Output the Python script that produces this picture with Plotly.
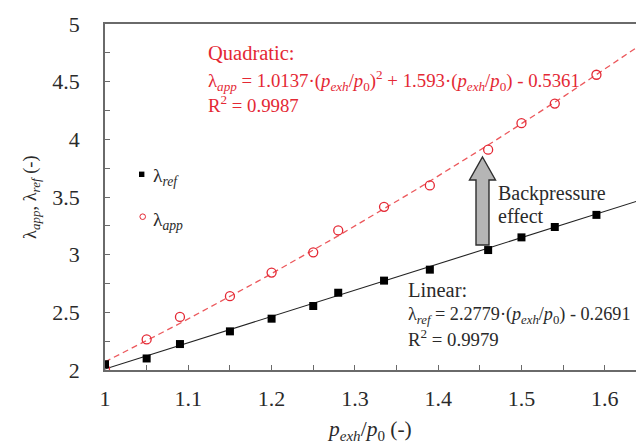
import numpy as np
import plotly.graph_objects as go

# ---- data ----
p_ratio = [1.00, 1.05, 1.09, 1.15, 1.20, 1.25, 1.28, 1.335, 1.39, 1.46, 1.50, 1.54, 1.59]
lambda_ref = [2.05, 2.10, 2.225, 2.335, 2.445, 2.555, 2.67, 2.775, 2.87, 3.04, 3.15, 3.24, 3.345]
lambda_app = [2.01, 2.265, 2.46, 2.64, 2.845, 3.02, 3.21, 3.415, 3.60, 3.91, 4.14, 4.31, 4.56]

# fitted models printed on the chart
lin_coef = [2.2779, -0.2691]            # lambda_ref = a*x + b
quad_coef = [1.0137, 1.593, -0.5361]    # lambda_app = a*x^2 + b*x + c
fit_x = np.linspace(1.0, 1.66, 80)

x_ticks = [1.0, 1.1, 1.2, 1.3, 1.4, 1.5, 1.6]
y_ticks = [2.0, 2.5, 3.0, 3.5, 4.0, 4.5, 5.0]

RED = "rgb(228,40,52)"
RED_LINE = "rgb(236,88,92)"
FONT = "Liberation Serif"
TXT = "#2a2a2a"
AX = "#6a6a6a"

W, H = 636, 444
ML, MR, MT, MB = 105, 0, 24, 74
PW, PH = W - ML - MR, H - MT - MB


def px(xp):
    return (xp - ML) / PW


def py(yp):
    return (H - MB - yp) / PH


fig = go.Figure()

fig.add_trace(go.Scatter(x=fit_x, y=np.polyval(quad_coef, fit_x), mode="lines",
                         line=dict(color=RED_LINE, width=1.3, dash="6px,4px"),
                         showlegend=False, hoverinfo="skip"))
fig.add_trace(go.Scatter(x=fit_x, y=np.polyval(lin_coef, fit_x), mode="lines",
                         line=dict(color="#222222", width=1.1),
                         showlegend=False, hoverinfo="skip"))
fig.add_trace(go.Scatter(x=p_ratio, y=lambda_app, mode="markers", name="λapp",
                         marker=dict(symbol="circle-open", size=9, color=RED,
                                     line=dict(width=1.3, color=RED)),
                         showlegend=False))
fig.add_trace(go.Scatter(x=p_ratio, y=lambda_ref, mode="markers", name="λref",
                         marker=dict(symbol="square", size=8, color="#000000"),
                         showlegend=False))

annotations = []


def add_text(text, xpix, ypix, color=TXT, size=19, xanchor="left", yanchor="middle", angle=0):
    annotations.append(dict(text=text, x=px(xpix), y=py(ypix), xref="paper", yref="paper",
                            xanchor=xanchor, yanchor=yanchor, showarrow=False,
                            textangle=angle, align="left", borderpad=0,
                            font=dict(family=FONT, size=size, color=color)))


pexh = "<i>p</i><sub><i>exh</i></sub>/<i>p</i><sub>0</sub>"

# quadratic block
add_text("Quadratic:", 207, 53, color=RED, size=20.5)
add_text("λ<sub><i>app</i></sub> = 1.0137·(" + pexh + ")<sup>2</sup> + 1.593·(" + pexh + ") - 0.5361",
         207, 81, color=RED, size=18.8)
add_text("R<sup>2</sup> = 0.9987", 207, 104, color=RED, size=18.8)

# linear block
add_text("Linear:", 407, 290, size=20.5)
add_text("λ<sub><i>ref</i></sub> = 2.2779·(" + pexh + ") - 0.2691", 407, 315, size=18.2)
add_text("R<sup>2</sup> = 0.9979", 407, 338, size=18.8)

# backpressure
add_text("Backpressure", 497, 193, size=20)
add_text("effect", 497, 216, size=20)

# legend
add_text("λ<sub><i>ref</i></sub>", 152, 177, size=19.5)
add_text("λ<sub><i>app</i></sub>", 152, 221, size=19.5)

# axis titles
add_text("λ<sub><i>app</i></sub>, λ<sub><i>ref</i></sub> (-)", 31, 197, size=18.5,
         xanchor="center", angle=-90)
add_text(pexh + " (-)", 369, 430, size=21.5, xanchor="center")

shapes = [
    # legend markers
    dict(type="rect", xref="paper", yref="paper", xsizemode="pixel", ysizemode="pixel",
         xanchor=px(141.7), yanchor=py(174.3), x0=-2.7, x1=2.7, y0=-2.7, y1=2.7,
         fillcolor="#000000", line=dict(width=0)),
    dict(type="circle", xref="paper", yref="paper", xsizemode="pixel", ysizemode="pixel",
         xanchor=px(142.7), yanchor=py(216.7), x0=-2.8, x1=2.8, y0=-2.8, y1=2.8,
         fillcolor="rgba(0,0,0,0)", line=dict(width=1, color=RED)),
]

# block arrow (backpressure effect), drawn in pixel offsets around an anchor
tip_x, tip_y = 482.5, 157
pts = [(0, 0), (13, 23), (6.5, 23), (6.5, 88), (-6.5, 88), (-6.5, 23), (-13, 23)]
path = "M " + " L ".join(f"{px(tip_x + dx):.5f},{py(tip_y + dy):.5f}" for dx, dy in pts) + " Z"
shapes.append(dict(type="path", xref="paper", yref="paper", path=path,
                   fillcolor="#b5b5b5", line=dict(color="#2e2e2e", width=1.4)))

fig.update_layout(
    width=W, height=H,
    margin=dict(l=ML, r=MR, t=MT, b=MB, pad=0),
    paper_bgcolor="white", plot_bgcolor="white",
    showlegend=False,
    annotations=annotations,
    shapes=shapes,
    font=dict(family=FONT, color=TXT),
    xaxis=dict(range=[1.0, 1.6375], tickvals=x_ticks, ticktext=[f"{v:g}" for v in x_ticks],
               ticks="inside", ticklen=5, tickwidth=1.2, tickcolor=AX,
               minor=dict(dtick=0.05, tick0=1.0, ticks="inside", ticklen=5, tickwidth=1.2, tickcolor=AX),
               showline=True, linecolor=AX, linewidth=1.5, mirror=True,
               showgrid=False, zeroline=False, ticklabelstandoff=8,
               tickfont=dict(family=FONT, size=22, color=TXT)),
    yaxis=dict(range=[2.0, 5.0], tickvals=y_ticks, ticktext=[f"{v:g}" for v in y_ticks],
               ticks="inside", ticklen=5, tickwidth=1.2, tickcolor=AX,
               minor=dict(dtick=0.25, tick0=2.0, ticks="inside", ticklen=5, tickwidth=1.2, tickcolor=AX),
               showline=True, linecolor=AX, linewidth=1.5, mirror=False,
               showgrid=False, zeroline=False, ticklabelstandoff=19,
               tickfont=dict(family=FONT, size=22, color=TXT)),
)

fig.write_html("out.html", config={"displayModeBar": False},
               post_script="document.body.style.margin='0';document.body.style.overflow='hidden';")
